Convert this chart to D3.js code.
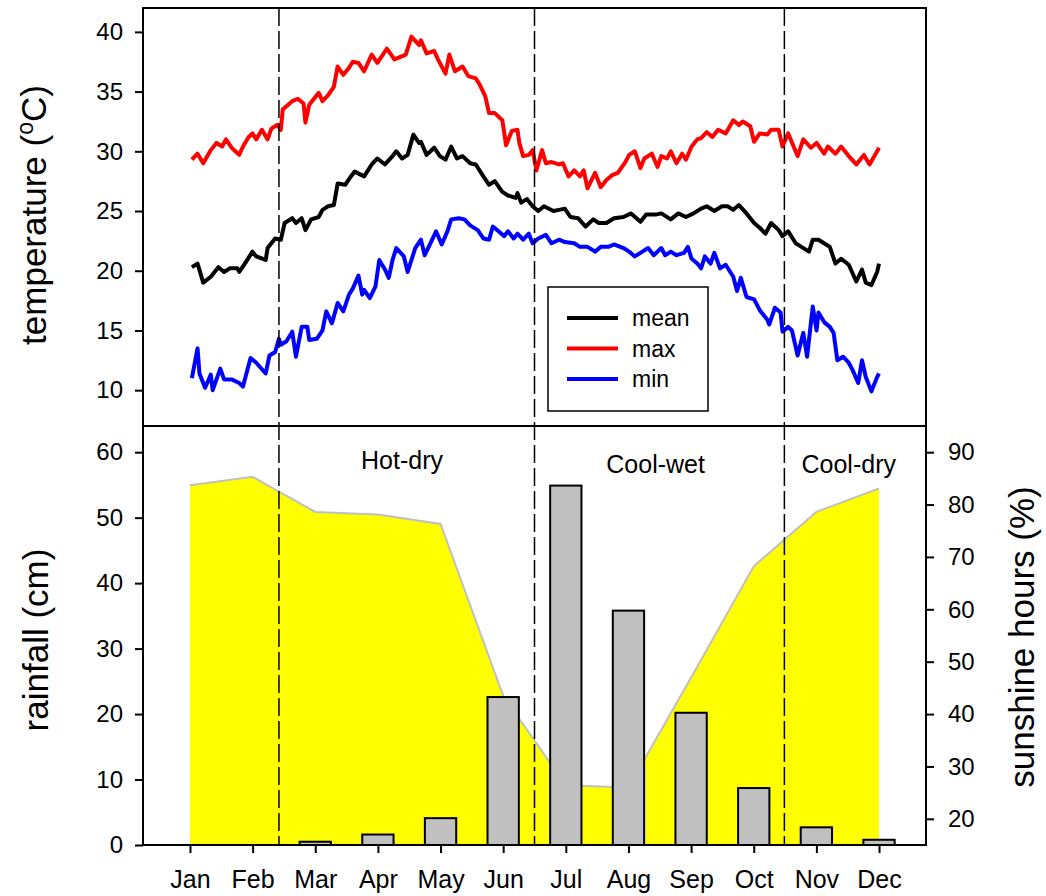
<!DOCTYPE html>
<html>
<head>
<meta charset="utf-8">
<script src="https://cdn.jsdelivr.net/npm/d3@7"></script>
<style>
  html, body { margin: 0; padding: 0; background: #fff; }
  svg { display: block; }
  text { font-family: "Liberation Sans", Arial, sans-serif; fill: #000; }
</style>
</head>
<body>
<svg id="chart" width="1046" height="896"></svg>
<script>
// ---------------- DATA ----------------
const months = ["Jan","Feb","Mar","Apr","May","Jun","Jul","Aug","Sep","Oct","Nov","Dec"];
const rainfall = [0, 0, 0.5, 1.6, 4.1, 22.6, 54.9, 35.8, 20.2, 8.7, 2.7, 0.8];      // cm
const sunshine = [83.7, 85.3, 78.6, 78.1, 76.3, 43.5, 26.4, 26.0, 47.0, 68.2, 78.6, 83.1]; // %
const tempTicks = [10, 15, 20, 25, 30, 35, 40];
const rainTicks = [0, 10, 20, 30, 40, 50, 60];
const sunTicks = [20, 30, 40, 50, 60, 70, 80, 90];
const seasonNames = ["Hot-dry", "Cool-wet", "Cool-dry"];
const seasonBoundaryDays = [48, 183, 315];
const seasonLabelDays = [113, 247, 349];
const legendNames = ["mean", "max", "min"];

// daily temperatures: [day of year, °C]
const maxTemp = [[2,29.3],[5,29.8],[8,29.0],[12,30.1],[15,30.7],[18,30.4],[20,31.0],[23,30.3],[27,29.7],[29,30.4],[32,31.2],[34,31.5],[36,31.0],[39,31.8],[42,31.0],[44,31.9],[47,32.2],[49,31.8],[50,33.5],[55,34.2],[58,34.4],[61,34.0],[62,32.4],[64,33.9],[69,34.9],[71,34.2],[74,34.7],[77,35.4],[79,37.1],[82,36.4],[85,37.0],[87,37.5],[90,37.4],[93,36.7],[97,38.1],[100,37.4],[105,38.6],[109,37.7],[115,38.1],[118,39.6],[122,38.9],[123,39.3],[126,38.2],[130,38.4],[132,37.7],[136,36.5],[138,38.1],[141,36.7],[145,37.1],[148,36.3],[152,36.1],[154,35.6],[157,34.6],[159,33.2],[162,33.2],[166,32.6],[168,30.5],[171,31.7],[174,31.8],[175,30.7],[177,29.6],[180,29.7],[182,30.1],[184,28.4],[187,30.1],[189,29.0],[192,29.1],[196,28.9],[198,29.0],[201,27.9],[204,28.4],[207,27.9],[209,28.4],[211,26.9],[215,28.2],[218,27.0],[221,27.6],[224,28.0],[227,28.2],[231,29.1],[233,29.7],[236,30.0],[239,28.6],[241,29.4],[245,29.8],[248,28.7],[250,29.6],[253,29.4],[255,30.0],[258,29.0],[261,29.8],[263,29.3],[266,30.4],[269,31.0],[271,31.1],[274,31.6],[277,31.2],[280,31.8],[284,31.5],[288,32.6],[291,32.2],[293,32.5],[297,32.1],[299,30.8],[302,31.5],[306,31.4],[308,31.8],[312,31.8],[314,30.4],[317,31.5],[322,29.6],[325,31.0],[329,30.3],[332,30.7],[336,29.8],[338,30.4],[342,29.8],[345,30.4],[349,29.6],[353,28.9],[357,29.7],[360,28.9],[364,30.0],[365,30.3]];

const meanTemp = [[2,20.3],[5,20.6],[8,19.0],[12,19.5],[16,20.3],[19,19.9],[22,20.2],[26,20.2],[27,19.9],[30,20.6],[34,21.6],[36,21.2],[41,20.9],[42,21.9],[46,22.7],[49,22.6],[51,24.0],[55,24.4],[57,24.0],[60,24.4],[62,23.4],[65,24.3],[69,24.5],[71,25.1],[74,25.4],[77,25.5],[79,27.3],[83,27.2],[86,27.9],[88,28.3],[93,27.9],[97,28.9],[100,29.4],[104,28.9],[108,29.6],[110,30.0],[113,29.4],[116,29.7],[119,31.4],[122,30.7],[123,30.8],[126,29.7],[130,30.3],[133,29.6],[136,29.3],[139,30.4],[142,29.4],[145,29.6],[149,29.0],[152,28.9],[156,27.9],[159,27.2],[162,27.5],[166,26.6],[169,26.3],[173,26.1],[174,26.5],[176,25.7],[179,26.0],[182,25.4],[185,25.0],[188,25.4],[193,25.0],[196,25.1],[199,25.2],[202,24.5],[206,24.4],[210,23.7],[214,24.3],[217,24.0],[221,24.0],[225,24.4],[230,24.5],[234,24.8],[239,24.1],[242,24.7],[247,24.7],[250,24.8],[255,24.3],[259,24.8],[263,24.5],[267,24.8],[271,25.2],[274,25.4],[278,25.0],[282,25.4],[285,25.4],[288,25.1],[291,25.5],[295,24.8],[299,24.0],[302,23.6],[305,23.1],[308,24.0],[312,23.4],[314,22.9],[317,23.3],[321,22.3],[324,22.0],[328,21.6],[330,22.6],[333,22.6],[336,22.3],[339,22.0],[342,20.6],[345,21.0],[349,20.5],[353,19.1],[356,20.1],[358,19.0],[361,18.8],[364,19.9],[365,20.6]];

const minTemp = [[2,11.0],[5,13.5],[6,11.4],[9,10.2],[12,11.3],[13,10.0],[17,11.8],[19,10.9],[23,10.9],[27,10.6],[29,10.3],[33,12.7],[36,12.3],[41,11.4],[43,12.9],[46,13.2],[48,14.3],[49,13.8],[52,14.1],[55,14.9],[57,12.8],[60,15.3],[63,15.3],[64,14.2],[68,14.3],[71,15.0],[73,16.6],[76,15.6],[79,17.3],[82,16.6],[85,18.0],[87,18.5],[90,19.6],[92,18.0],[93,18.4],[96,17.7],[99,18.7],[101,20.9],[104,20.1],[106,19.4],[108,20.9],[110,21.9],[114,21.2],[116,19.9],[120,21.9],[123,22.6],[125,21.3],[128,22.3],[131,23.3],[134,22.2],[137,23.3],[139,24.3],[143,24.4],[146,24.3],[149,23.8],[153,23.4],[156,22.7],[159,22.6],[161,23.7],[164,23.3],[167,22.9],[169,23.3],[172,22.7],[174,23.1],[177,22.6],[180,23.1],[182,22.3],[185,22.7],[189,23.0],[192,22.3],[196,22.6],[199,22.4],[204,22.3],[207,22.0],[211,22.0],[215,21.6],[218,22.0],[222,22.0],[225,22.2],[230,21.9],[233,21.6],[236,21.2],[240,21.6],[243,21.9],[246,21.3],[250,21.9],[252,21.3],[255,21.6],[258,21.3],[262,21.5],[264,22.0],[266,21.0],[269,20.6],[271,20.2],[273,21.2],[276,20.6],[278,21.5],[281,20.2],[284,20.5],[288,19.5],[290,18.3],[292,19.4],[295,17.8],[299,17.6],[302,16.7],[306,15.9],[307,15.5],[310,16.9],[313,16.5],[314,14.9],[317,15.3],[319,15.0],[322,12.9],[325,14.8],[327,12.8],[330,17.0],[332,15.0],[333,16.5],[336,15.7],[339,15.3],[341,14.8],[343,12.5],[346,12.8],[349,12.3],[351,11.7],[354,10.6],[356,12.5],[358,11.1],[361,9.9],[364,11.1],[365,11.4]];

// ---------------- LAYOUT ----------------
const L = 143, R = 926, T = 8, MID = 426, B = 845;
const FONT = '"Liberation Sans", Arial, sans-serif';
const svg = d3.select("#chart");

const x = d3.scaleLinear().domain([-0.75, 11.75]).range([L, R]);
const xDay = d3.scaleLinear().domain([1, 365]).range([x(0), x(11)]);
const yT = d3.scaleLinear().domain([7, 42]).range([MID, T]);
const yR = d3.scaleLinear().domain([0, 64]).range([B, MID]);
const yS = d3.scaleLinear().domain([15, 95]).range([B, MID]);

svg.append("defs").append("clipPath").attr("id", "clipTop")
  .append("rect").attr("x", L).attr("y", T).attr("width", R - L).attr("height", MID - T);

// ---- bottom panel: sunshine area ----
const area = d3.area().x((d, i) => x(i)).y0(yS(15)).y1(d => yS(d));
const line = d3.line().x((d, i) => x(i)).y(d => yS(d));
svg.append("path").datum(sunshine).attr("d", area).attr("fill", "#ffff00");
svg.append("path").datum(sunshine).attr("d", line).attr("fill", "none")
  .attr("stroke", "#c0c0c0").attr("stroke-width", 2);

// ---- rainfall bars ----
const bw = x(0.5) - x(0);
svg.append("g").selectAll("rect").data(rainfall).join("rect")
  .attr("x", (d, i) => x(i) - bw / 2)
  .attr("y", d => yR(d))
  .attr("width", bw)
  .attr("height", d => yR(0) - yR(d))
  .attr("fill", "#c0c0c0").attr("stroke", "#000").attr("stroke-width", 2);

// ---- temperature lines ----
const tLine = d3.line().x(d => xDay(d[0])).y(d => yT(d[1]));
const gT = svg.append("g").attr("clip-path", "url(#clipTop)");
const series = [
  { data: meanTemp, color: "#000000" },
  { data: maxTemp, color: "#ff0000" },
  { data: minTemp, color: "#0000ff" }
];
series.forEach(s => {
  gT.append("path").datum(s.data).attr("d", tLine).attr("fill", "none")
    .attr("stroke", s.color).attr("stroke-width", 4).attr("stroke-linejoin", "round");
});

// ---- season dashed lines ----
svg.append("g").selectAll("line").data(seasonBoundaryDays).join("line")
  .attr("x1", d => xDay(d)).attr("x2", d => xDay(d))
  .attr("y1", T).attr("y2", B)
  .attr("stroke", "#000").attr("stroke-width", 1.5).attr("stroke-dasharray", "18,5");

svg.append("g").selectAll("text").data(seasonNames).join("text")
  .attr("x", (d, i) => xDay(seasonLabelDays[i]))
  .attr("y", (d, i) => i === 0 ? 469 : 473)
  .attr("text-anchor", "middle").attr("font-size", 25).text(d => d);

// ---- legend ----
const lg = svg.append("g");
lg.append("rect").attr("x", 548).attr("y", 287).attr("width", 160).attr("height", 124)
  .attr("fill", "#fff").attr("stroke", "#000").attr("stroke-width", 1.5);
const legendColors = ["#000000", "#ff0000", "#0000ff"];
legendNames.forEach((n, i) => {
  const yy = 318 + i * 30.5;
  lg.append("line").attr("x1", 567).attr("x2", 618).attr("y1", yy).attr("y2", yy)
    .attr("stroke", legendColors[i]).attr("stroke-width", 4);
  lg.append("text").attr("x", 632).attr("y", yy).attr("dy", "0.35em")
    .attr("font-size", 23).text(n);
});

// ---- frames ----
const frame = svg.append("g").attr("fill", "none").attr("stroke", "#000").attr("stroke-width", 2);
frame.append("rect").attr("x", L).attr("y", T).attr("width", R - L).attr("height", B - T);
frame.append("line").attr("x1", L).attr("x2", R).attr("y1", MID).attr("y2", MID);

// ---- axes ----
function styleAxis(g, size) {
  g.select(".domain").remove();
  g.selectAll(".tick line").attr("stroke", "#000").attr("stroke-width", 2);
  g.selectAll(".tick text").attr("font-family", FONT).attr("font-size", size).attr("fill", "#000");
}
svg.append("g").attr("transform", `translate(${L},0)`)
  .call(d3.axisLeft(yT).tickValues(tempTicks).tickSize(8).tickPadding(12))
  .call(g => styleAxis(g, 24));
svg.append("g").attr("transform", `translate(${L},0)`)
  .call(d3.axisLeft(yR).tickValues(rainTicks).tickSize(8).tickPadding(12))
  .call(g => styleAxis(g, 24));
svg.append("g").attr("transform", `translate(${R},0)`)
  .call(d3.axisRight(yS).tickValues(sunTicks).tickSize(8).tickPadding(14))
  .call(g => styleAxis(g, 24));
svg.append("g").attr("transform", `translate(0,${B})`)
  .call(d3.axisBottom(x).tickValues(d3.range(12)).tickFormat(i => months[i]).tickSize(8).tickPadding(17))
  .call(g => styleAxis(g, 25));

// ---- axis titles ----
const tt = svg.append("text").attr("transform", "translate(46,215) rotate(-90)")
  .attr("text-anchor", "middle").attr("font-size", 35);
tt.append("tspan").text("temperature (");
tt.append("tspan").attr("font-size", 23).attr("dy", -13).text("o");
tt.append("tspan").attr("dy", 13).text("C)");

svg.append("text").attr("transform", "translate(48,640) rotate(-90)")
  .attr("text-anchor", "middle").attr("font-size", 35).text("rainfall (cm)");
svg.append("text").attr("transform", "translate(1034,637) rotate(-90)")
  .attr("text-anchor", "middle").attr("font-size", 35).text("sunshine hours (%)");
</script>
</body>
</html>
